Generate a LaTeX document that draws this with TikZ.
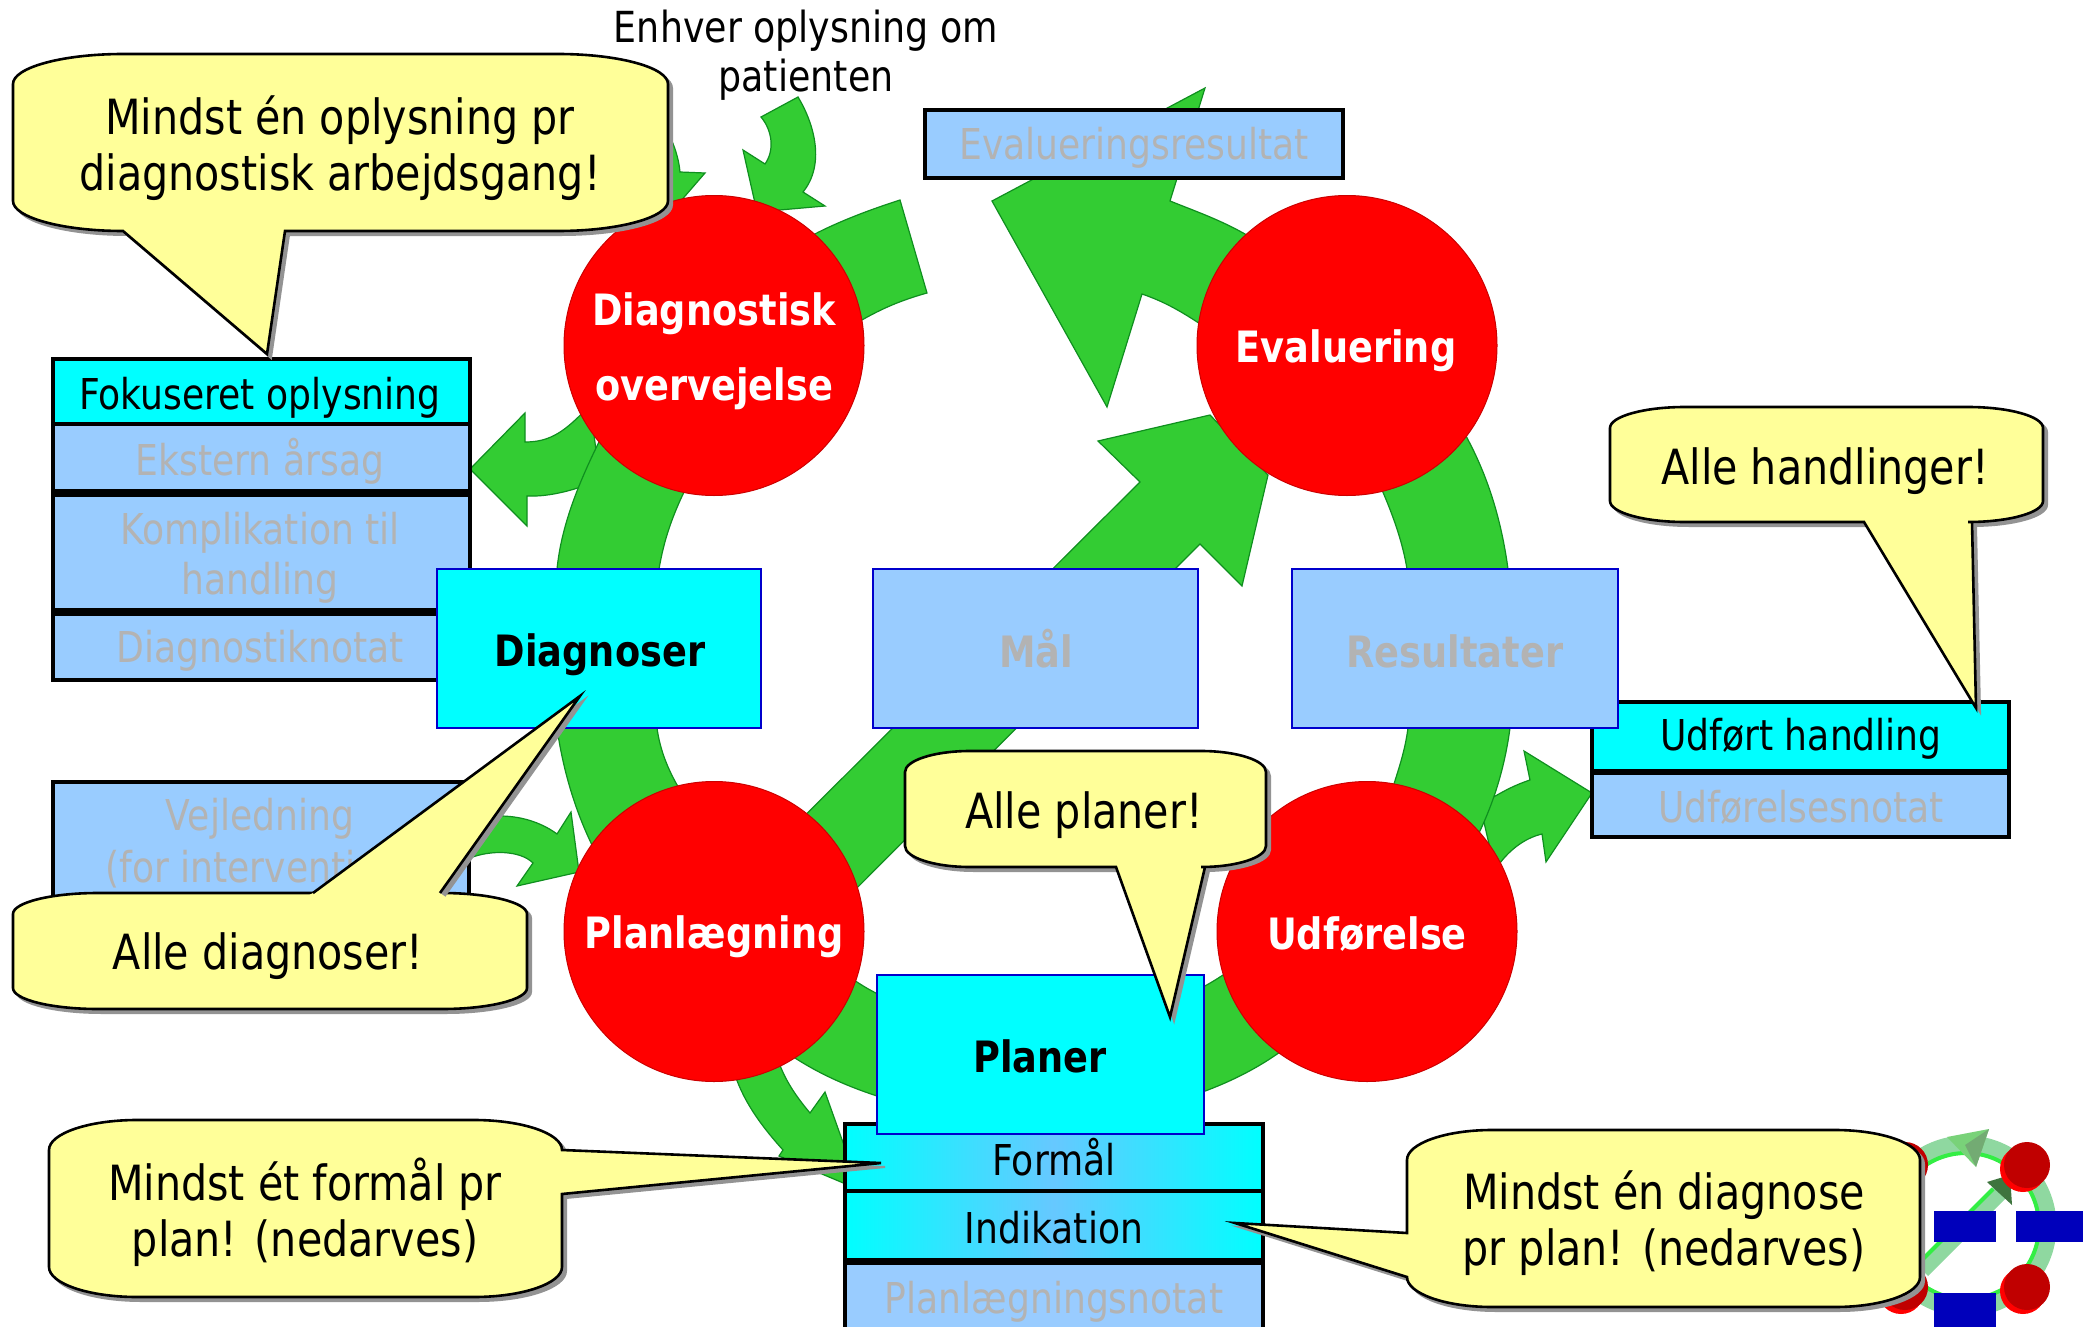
\documentclass[tikz,border=0pt]{standalone}
\usepackage{fontspec}
\setmainfont[FakeStretch=0.85]{DejaVu Sans}
\definecolor{arrowgreen}{HTML}{33CC33}
\definecolor{arrowedge}{HTML}{0F8F1F}
\definecolor{nodered}{HTML}{FF0000}
\definecolor{lightbluefill}{HTML}{99CCFF}
\definecolor{cyanfill}{HTML}{00FFFF}
\definecolor{midgrad}{HTML}{66C8FF}
\definecolor{greytext}{HTML}{B3B3B3}
\definecolor{calloutfill}{HTML}{FFFF99}
\definecolor{boxblue}{HTML}{0000CC}
\definecolor{iconred}{HTML}{C00000}
\definecolor{iconblue}{HTML}{0000BB}
\definecolor{ringpale}{HTML}{8FD8A0}
\definecolor{ringbright}{HTML}{33EE44}
\tikzset{
  blockarrow/.style={fill=arrowgreen,draw=arrowedge,line width=1.2pt,line join=miter},
  phase/.style={circle,fill=nodered,draw=red!80!black,line width=1pt,minimum size=300pt,inner sep=0pt},
  phasetext/.style={text=white,font=\fontsize{43.2}{48}\selectfont\bfseries,anchor=center,inner sep=0pt},
  bigbox/.style={draw=boxblue,line width=2.6pt,minimum width=0pt,inner sep=0pt},
  boldtext/.style={font=\fontsize{43.2}{48}\selectfont\bfseries,anchor=center,inner sep=0pt},
  stackbox/.style={draw=black,line width=4.5pt,line join=miter},
  cellblack/.style={text=black,font=\fontsize{42.5}{48}\selectfont,anchor=center,inner sep=0pt},
  cellgrey/.style={text=greytext,font=\fontsize{42.5}{48}\selectfont,anchor=center,inner sep=0pt},
  calltext/.style={text=black,font=\fontsize{48.5}{56}\selectfont,anchor=center,inner sep=0pt},
  sep/.style={draw=black,line width=#1},
}
% x0 y0 x1 y1 rx ry top right bottom left
\newcommand{\calloutpath}[9]{%
  (#1+#5,#2) -- ({#3-#5},#2) .. controls ({#3-.45*#5},#2) and (#3,{#2+.45*#6}) .. (#3,{#2+#6})
  #7 -- (#3,{#4-#6}) .. controls (#3,{#4-.45*#6}) and ({#3-.45*#5},#4) .. ({#3-#5},#4)
  #8 -- ({#1+#5},#4) .. controls ({#1+.45*#5},#4) and (#1,{#4-.45*#6}) .. (#1,{#4-#6})
  #9 -- (#1,{#2+#6}) .. controls (#1,{#2+.45*#6}) and ({#1+.45*#5},#2) .. ({#1+#5},#2)
}
\begin{document}
\begin{tikzpicture}[x=1pt,y=-1pt]
\useasboundingbox (0,0) rectangle (2089,1327);
\fill[white] (0,0) rectangle (2089,1327);

% guidance box behind everything
\fill[lightbluefill,stackbox] (53,782) rectangle (469,930);
\node[cellgrey] (vej1) at (260,819) {Vejledning};
\node[cellgrey] (vej2) at (260,869) {(for intervention)};

% side arrows beneath the main arcs
\path[blockarrow] (470,469) -- (525,413) -- (525,442) .. controls (550,442) and (565,432) .. (590,405)
   -- (600,480) .. controls (575,490) and (550,497) .. (527,496) -- (527,526) -- cycle;
\path[blockarrow] (1592,793) -- (1524,751) -- (1530,780) .. controls (1515,785) and (1505,790) .. (1480,805)
   -- (1495,870) .. controls (1508,850) and (1525,838) .. (1542,834) -- (1546,862) -- cycle;

% block arrows
\path[blockarrow] (600,440) .. controls (575,490) and (561,530) .. (557,569) -- (557,728)
   .. controls (563,770) and (575,810) .. (592,845) -- (680,790)
   .. controls (668,770) and (660,750) .. (657,728) -- (659,569) .. controls (664,540) and (672,515) .. (690,480) -- cycle;
\path[blockarrow] (1382,490) .. controls (1395,520) and (1403,545) .. (1407,569) -- (1408,728)
   .. controls (1405,750) and (1400,765) .. (1392,790) -- (1478,835)
   .. controls (1495,800) and (1505,765) .. (1510,728) -- (1508,569)
   .. controls (1502,525) and (1490,480) .. (1466,436) -- cycle;
% bottom arc
\path[blockarrow] (850,977) .. controls (880,1000) and (950,1030) .. (1040,1030)
   .. controls (1110,1030) and (1190,1000) .. (1230,970) -- (1280,1052)
   .. controls (1220,1095) and (1130,1120) .. (1040,1120)
   .. controls (950,1120) and (860,1100) .. (795,1058) -- cycle;
% straight arrow to Evaluering
\path[blockarrow] (720,900) -- (1140,482) -- (1098,441) -- (1210,415) -- (1268,475) -- (1242,586) -- (1200,544)
   -- (800,945) -- cycle;
% tail out of Diagnostisk
\path[blockarrow] (780,255) .. controls (815,230) and (860,213) .. (900,200) -- (927,293)
   .. controls (895,302) and (870,313) .. (830,340) -- cycle;
% head to Evalueringsresultat side
\path[blockarrow] (1205,88) -- (992,201) -- (1107,407) -- (1142,294)
   .. controls (1165,302) and (1185,312) .. (1230,345) -- (1270,250)
   .. controls (1235,225) and (1205,215) .. (1170,201) -- cycle;
% into Diagnostisk from callout
\path[blockarrow] (655,110) .. controls (668,130) and (678,150) .. (680,172) -- (705,173) -- (660,225) -- (630,190) -- cycle;
% Enhver arrow
\path[blockarrow] (761,117) -- (798,97) .. controls (815,125) and (825,165) .. (803,192)
   -- (825,206) -- (757,212) -- (743,150) -- (765,164) .. controls (775,150) and (772,130) .. (761,117) -- cycle;
% from guidance box
\path[blockarrow] (500,816) .. controls (525,816) and (545,825) .. (557,834) -- (571,812) -- (579,872) -- (517,886)
   -- (533,863) .. controls (520,850) and (490,850) .. (470,858) -- cycle;
% Planlægning to the plan stack
\path[blockarrow] (735,1075) .. controls (745,1105) and (765,1130) .. (783,1150) -- (779,1156)
   -- (860,1190) -- (825,1092) -- (810,1113) .. controls (795,1095) and (785,1080) .. (778,1060) -- cycle;

% left stack
\fill[lightbluefill] (53,424) rectangle (470,680);
\fill[cyanfill] (53,359) rectangle (470,424);
\draw[stackbox] (53,359) rectangle (470,680);
\draw[sep=4.5pt] (53,424) -- (470,424);
\draw[sep=8pt] (53,493) -- (470,493);
\draw[sep=8pt] (53,612) -- (470,612);
\node[cellblack] (fok) at (260,398) {Fokuseret oplysning};
\node[cellgrey] (eks) at (260,461) {Ekstern årsag};
\node[cellgrey] (kom1) at (260,533) {Komplikation til};
\node[cellgrey] (kom2) at (260,583) {handling};
\node[cellgrey] (dno) at (260,651) {Diagnostiknotat};

% right stack
\fill[cyanfill] (1592,702) rectangle (2009,770);
\fill[lightbluefill] (1592,770) rectangle (2009,837);
\draw[stackbox] (1592,702) rectangle (2009,837);
\draw[sep=6pt] (1592,772) -- (2009,772);
\node[cellblack] (udh) at (1801,739) {Udført handling};
\node[cellgrey] (udn) at (1801,807) {Udførelsesnotat};

% evaluation result
\fill[lightbluefill,stackbox] (925,110) rectangle (1343,178);
\node[cellgrey] (evr) at (1134,148) {Evalueringsresultat};

% phases
\node[phase] (cD) at (714,345.5) {};
\node[phase] (cE) at (1347,345.5) {};
\node[phase] (cP) at (714,931.5) {};
\node[phase] (cU) at (1367,931.5) {};
\node[phasetext] (tD1) at (714,314) {Diagnostisk};
\node[phasetext] (tD2) at (714,389) {overvejelse};
\node[phasetext] (tE) at (1346,351) {Evaluering};
\node[phasetext] (tP) at (714,937) {Planlægning};
\node[phasetext] (tU) at (1367,934) {Udførelse};

% plan stack
\shade[left color=cyanfill,right color=cyanfill,middle color=midgrad] (845,1124) rectangle (1263,1261);
\fill[lightbluefill] (845,1261) rectangle (1263,1340);
\draw[stackbox] (845,1124) rectangle (1263,1340);
\draw[sep=4.5pt] (845,1191) -- (1263,1191);
\draw[sep=7pt] (845,1261) -- (1263,1261);
\node[cellblack] (for) at (1054,1157) {Formål};
\node[cellblack] (ind) at (1054,1228) {Indikation};
\node[cellgrey] (pln) at (1054,1302) {Planlægningsnotat};

% big boxes
\fill[cyanfill,bigbox] (437,569) rectangle (761,728);
\node[boldtext] (bDi) at (600,655) {Diagnoser};
\fill[lightbluefill,bigbox] (873,569) rectangle (1198,728);
\node[boldtext,text=greytext] (bMa) at (1036,649) {Mål};
\fill[lightbluefill,bigbox] (1292,569) rectangle (1618,728);
\node[boldtext,text=greytext] (bRe) at (1455,651) {Resultater};
\fill[cyanfill,bigbox] (877,975) rectangle (1204,1134);
\node[boldtext] (bPl) at (1040,1056) {Planer};

% enhver
\node[cellblack,align=center,font=\fontsize{42.8}{49}\selectfont] (enh) at (806,55) {Enhver oplysning om\\patienten};

% small icon
\begin{scope}
\draw[line width=19pt,color=ringpale] (1966,1226) circle[radius=81];
\draw[line width=4pt,color=ringbright] (1966,1226) circle[radius=73];
\draw[line width=17pt,color=ringpale] (1922,1270) -- (2000,1192);
\draw[line width=4pt,color=ringbright] (1919,1263) -- (1993,1189);
\fill[green!50!gray!70] (1947,1137) -- (1989,1129) -- (1976,1167) -- cycle;
\fill[green!40!black!55] (1965,1145) -- (1989,1129) -- (1976,1167) -- cycle;
\fill[green!30!gray!70!black] (1987,1182) -- (2010,1175) -- (2012,1205) -- cycle;
\foreach \px/\py in {2027/1165,2027/1287,1905/1165,1905/1287}{
  \fill[red] (\px-4,\py+4) circle[radius=23];
  \fill[iconred] (\px,\py) circle[radius=23];
}
\fill[iconblue] (1934,1211) rectangle (1996,1242);
\fill[iconblue] (2016,1211) rectangle (2083,1242);
\fill[iconblue] (1934,1293) rectangle (1996,1327);
\end{scope}

% callouts
\tikzset{calloutshadow/.style={fill=gray!85,draw=gray!85,line width=2pt,shift={(4,4)}},
         calloutbody/.style={fill=calloutfill,draw=black,line width=2.6pt,line join=miter}}
\newcommand{\callout}[9]{%
  \path[calloutshadow] \calloutpath{#1}{#2}{#3}{#4}{#5}{#6}{#7}{#8}{#9} -- cycle;
  \path[calloutbody] \calloutpath{#1}{#2}{#3}{#4}{#5}{#6}{#7}{#8}{#9} -- cycle;
}
\callout{13}{54}{668}{231}{110}{30}{}{-- (285,231) -- (267,354) -- (123,231)}{}
\node[calltext,align=center] (c1) at (340,148) {Mindst én oplysning pr\\diagnostisk arbejdsgang!};
\callout{1610}{407}{2043}{522}{75}{21}{}{-- (1972,522) -- (1976,708) -- (1864,522)}{}
\node[calltext] (c2) at (1825,471) {Alle handlinger!};
\callout{13}{893}{527}{1009}{85}{21}{}{}{}
\path[calloutshadow] (313,893) -- (580,696) -- (440,893);
\path[calloutbody,draw=none] (300,900) -- (313,893) -- (580,696) -- (440,893) -- (450,900) -- cycle;
\draw[black,line width=2.6pt] (313,893) -- (580,696) -- (440,893);
\node[calltext] (c3) at (268,956) {Alle diagnoser!};
\callout{905}{751}{1266}{867}{65}{21}{}{-- (1205,867) -- (1170,1017) -- (1116,867)}{}
\node[calltext] (c4) at (1084,815) {Alle planer!};
\callout{49}{1120}{562}{1297}{88}{30}{-- (562,1150) -- (881,1163) -- (562,1194)}{}{}
\node[calltext,align=center] (c5) at (305,1212) {Mindst ét formål pr\\plan! (nedarves)};
\callout{1407}{1130}{1920}{1307}{85}{30}{}{}{-- (1407,1277) -- (1235,1223) -- (1407,1233)}
\node[calltext,align=center] (c6) at (1664,1223) {Mindst én diagnose\\pr plan! (nedarves)};
\end{tikzpicture}
\end{document}
